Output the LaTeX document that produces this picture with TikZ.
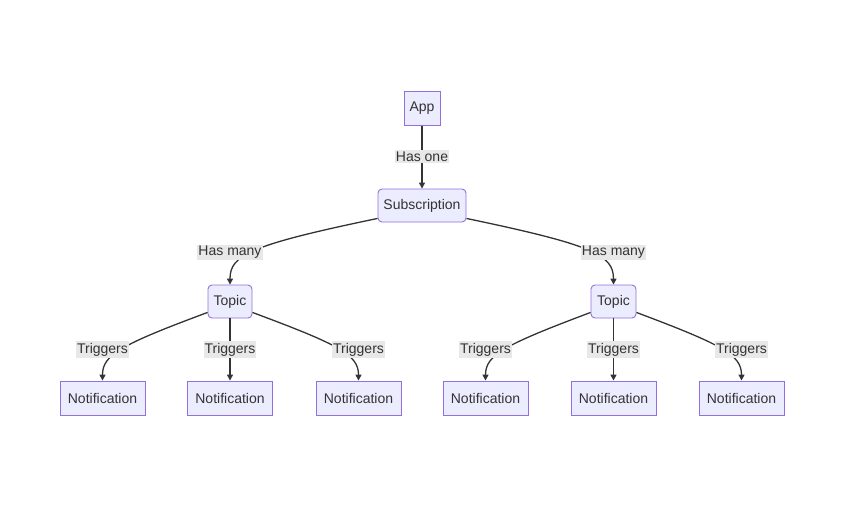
\documentclass[tikz,border=0pt]{standalone}
\usepackage{fontspec}
\setmainfont{Liberation Sans}
\usetikzlibrary{arrows.meta}
\definecolor{nodefill}{HTML}{ECECFF}
\definecolor{nodeline}{HTML}{9370DB}
\definecolor{edgecol}{HTML}{333333}
\definecolor{lblbg}{HTML}{E8E8E8}
\begin{document}
\begin{tikzpicture}[x=1pt,y=-1pt,
  box/.style={draw=nodeline,fill=nodefill,line width=0.9pt,text=edgecol,font=\fontsize{14}{16}\selectfont,inner sep=0pt,minimum height=34pt},
  rbox/.style={box,rounded corners=4pt},
  edge/.style={draw=edgecol,line width=1.3pt,-{Triangle[length=6pt,width=6pt]}},
  lbl/.style={fill=lblbg,text=edgecol,font=\fontsize{14}{16}\selectfont,inner xsep=1pt,inner ysep=1.5pt}]
\useasboundingbox (0,0) rectangle (845,509);
\node[box,minimum width=36pt] (app) at (422,108.5) {App};
\node[rbox,minimum width=88pt,minimum height=33pt] (sub) at (422,205.5) {Subscription};
\node[rbox,minimum width=44pt,minimum height=33pt] (tl) at (230,301.5) {Topic};
\node[rbox,minimum width=45pt,minimum height=33pt] (tr) at (613.5,301.5) {Topic};
\node[box,minimum width=85pt] (n1) at (102.5,398) {Notification};
\node[box,minimum width=85pt] (n2) at (230,398) {Notification};
\node[box,minimum width=85pt] (n3) at (358.5,398) {Notification};
\node[box,minimum width=85pt] (n4) at (485.5,398) {Notification};
\node[box,minimum width=85pt] (n5) at (613.5,398) {Notification};
\node[box,minimum width=85pt] (n6) at (741.5,398) {Notification};

\draw[edge] (app) -- (sub);
\draw[edge] ([yshift=4pt]sub.south west) .. controls (250,245) and (230,255) .. (tl.north);
\draw[edge] ([yshift=4pt]sub.south east) .. controls (593.5,245) and (613.5,255) .. (tr.north);

\draw[edge] ([yshift=6pt]tl.south west) .. controls (120,345) and (102.5,355) .. (n1.north);
\draw[edge] (tl) -- (n2);
\draw[edge] ([yshift=6pt]tl.south east) .. controls (340,345) and (358.5,355) .. (n3.north);
\draw[edge] ([yshift=6pt]tr.south west) .. controls (504,345) and (485.5,355) .. (n4.north);
\draw[edge] (tr) -- (n5);
\draw[edge] ([yshift=6pt]tr.south east) .. controls (723,345) and (741.5,355) .. (n6.north);

\node[lbl] (l0) at (422,156.5) {Has one};
\node[lbl] (l1) at (230,252.5) {Has many};
\node[lbl] (l2) at (613.5,252.5) {Has many};
\node[lbl] (l3) at (102.5,349.5) {Triggers};
\node[lbl] (l4) at (230,349.5) {Triggers};
\node[lbl] (l5) at (358.5,349.5) {Triggers};
\node[lbl] (l6) at (485.5,349.5) {Triggers};
\node[lbl] (l7) at (613.5,349.5) {Triggers};
\node[lbl] (l8) at (741.5,349.5) {Triggers};
\end{tikzpicture}
\end{document}
